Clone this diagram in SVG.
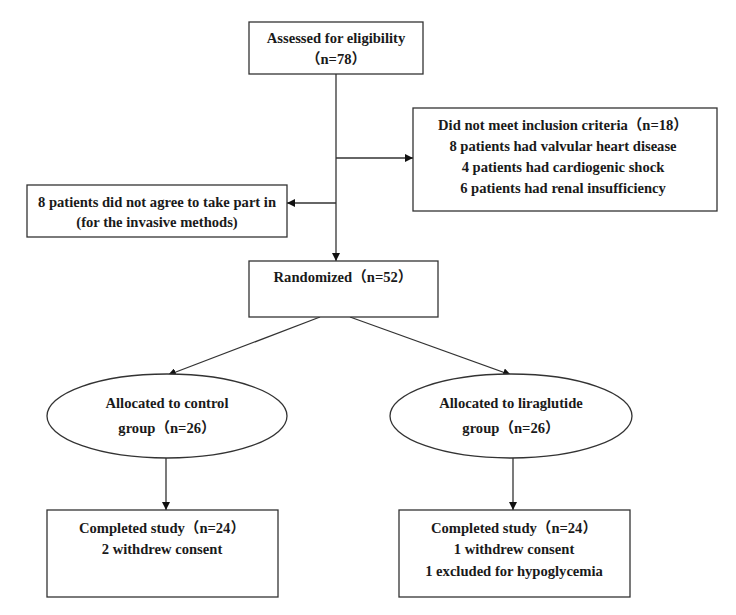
<svg xmlns="http://www.w3.org/2000/svg" width="736" height="615" viewBox="0 0 736 615">
<defs>
<style>
.box{fill:#fff;stroke:#333;stroke-width:1.3}
.t{font-family:"Liberation Serif","Noto Sans CJK SC",serif;font-weight:bold;font-size:14.6px;fill:#1a1a1a;text-anchor:middle}
.c{stroke:#333;stroke-width:1.3;fill:none}
</style>
<marker id="ah" viewBox="0 0 10 10" refX="10" refY="5" markerWidth="8" markerHeight="8" markerUnits="userSpaceOnUse" orient="auto">
<path d="M0,0 L10,5 L0,10 z" fill="#111"/>
</marker>
</defs>
<rect width="736" height="615" fill="#fff"/>
<g id="connectors">
<line class="c" x1="336" y1="74" x2="336" y2="261" marker-end="url(#ah)"/>
<line class="c" x1="336" y1="158" x2="413" y2="158" marker-end="url(#ah)"/>
<line class="c" x1="336" y1="203" x2="287" y2="203" marker-end="url(#ah)"/>
<line class="c" x1="320" y1="317" x2="168" y2="375" marker-end="url(#ah)"/>
<line class="c" x1="350" y1="317" x2="511" y2="375" marker-end="url(#ah)"/>
<line class="c" x1="166" y1="458" x2="166" y2="510" marker-end="url(#ah)"/>
<line class="c" x1="513" y1="458" x2="513" y2="510" marker-end="url(#ah)"/>
</g>
<g id="assessed">
<rect class="box" x="249" y="22" width="174" height="52"/>
<text class="t" x="336" y="43">Assessed for eligibility</text>
<text class="t" x="336" y="64">（n=78）</text>
</g>
<g id="excluded">
<rect class="box" x="413" y="108" width="304" height="103"/>
<text class="t" x="563" y="130">Did not meet inclusion criteria（n=18）</text>
<text class="t" x="563" y="151">8 patients had valvular heart disease</text>
<text class="t" x="563" y="172">4 patients had cardiogenic shock</text>
<text class="t" x="563" y="193">6 patients had renal insufficiency</text>
</g>
<g id="declined">
<rect class="box" x="27" y="185" width="260" height="52"/>
<text class="t" x="157" y="207">8 patients did not agree to take part in</text>
<text class="t" x="157" y="227">(for the invasive methods)</text>
</g>
<g id="randomized">
<rect class="box" x="249" y="261" width="189" height="56"/>
<text class="t" x="343" y="282">Randomized（n=52）</text>
</g>
<g id="control">
<ellipse class="box" cx="167" cy="416" rx="120" ry="42"/>
<text class="t" x="167" y="408">Allocated to control</text>
<text class="t" x="167" y="433">group（n=26）</text>
</g>
<g id="liraglutide">
<ellipse class="box" cx="511" cy="416" rx="121" ry="42"/>
<text class="t" x="511" y="408">Allocated to liraglutide</text>
<text class="t" x="511" y="433">group（n=26）</text>
</g>
<g id="completed-control">
<rect class="box" x="47" y="510" width="231" height="87"/>
<text class="t" x="162" y="533">Completed study（n=24）</text>
<text class="t" x="162" y="554">2 withdrew consent</text>
</g>
<g id="completed-lira">
<rect class="box" x="399" y="510" width="231" height="87"/>
<text class="t" x="514" y="533">Completed study（n=24）</text>
<text class="t" x="514" y="554">1 withdrew consent</text>
<text class="t" x="514" y="576">1 excluded for hypoglycemia</text>
</g>
</svg>
